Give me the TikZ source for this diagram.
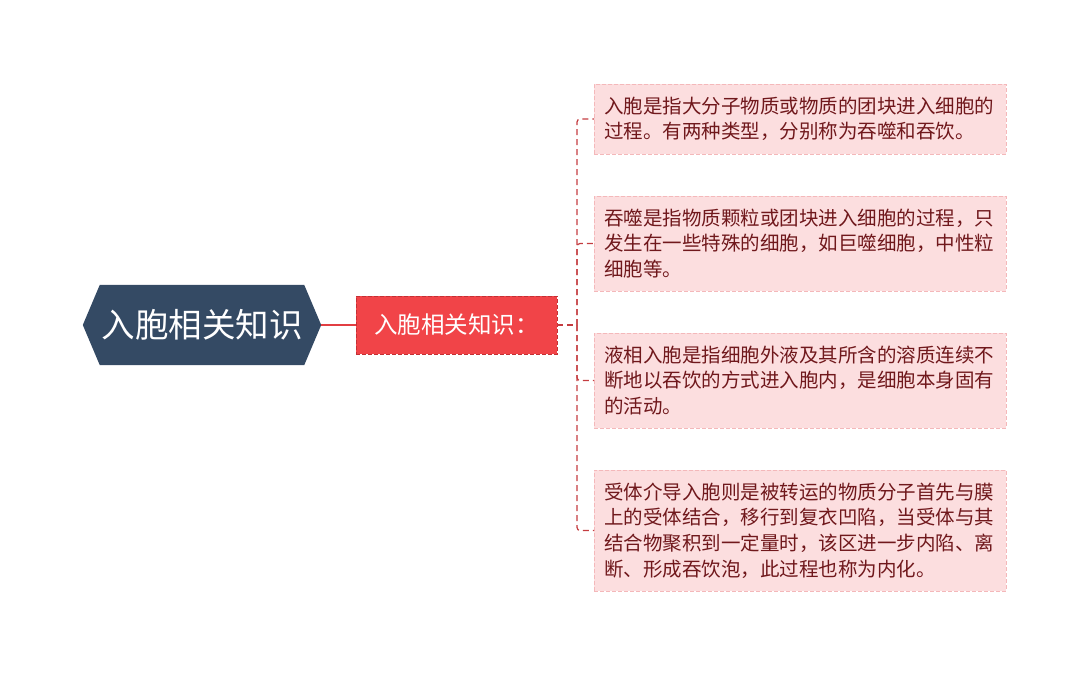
\documentclass[tikz,border=0pt]{standalone}
\usepackage{fontspec}
\setmainfont{Noto Sans CJK SC}
\definecolor{rootfill}{RGB}{52,74,100}
\definecolor{midfill}{RGB}{241,68,72}
\definecolor{midborder}{RGB}{196,48,52}
\definecolor{connred}{RGB}{226,62,66}
\definecolor{dashred}{RGB}{196,60,64}
\definecolor{leaffill}{RGB}{252,222,223}
\definecolor{leafborder}{RGB}{244,184,186}
\definecolor{leaftext}{RGB}{112,24,28}
\tikzset{
  rootbox/.style={minimum width=238pt, minimum height=80pt, inner sep=0pt, text=white,
    font=\fontsize{33.5}{38}\selectfont},
  midbox/.style={draw=midborder, dash pattern=on 4pt off 2pt, line width=0.9pt, fill=midfill,
    minimum width=201pt, minimum height=58pt, inner sep=0pt, text=white,
    font=\fontsize{23.5}{28}\selectfont},
  leafbox/.style={draw=leafborder, dash pattern=on 4pt off 2pt, line width=0.8pt, fill=leaffill,
    text=leaftext, text width=392pt, inner xsep=10pt, inner ysep=0pt, align=left, anchor=west,
    font=\fontsize{19.5}{25.6}\selectfont},
  solidconn/.style={draw=connred, line width=2pt},
  dashconn/.style={draw=dashred, line width=1.2pt, dash pattern=on 6pt off 4pt, rounded corners=3pt},
}
\begin{document}
\begin{tikzpicture}[x=1pt,y=-1pt]
\useasboundingbox (0,0) rectangle (1090,675);
\node[rootbox] (root) at (202,325) {};
\fill[rootfill] (root.west) -- ([xshift=17pt]root.north west) -- ([xshift=-17pt]root.north east)
  -- (root.east) -- ([xshift=-17pt]root.south east) -- ([xshift=17pt]root.south west) -- cycle;
\node[rootbox] at (root.center) {入胞相关知识};
\node[midbox] (mid) at (456.5,325) {入胞相关知识：};
\draw[solidconn] (root.east) -- (mid.west);
\node[leafbox, minimum height=70pt] (b1) at (594,119) {入胞是指大分子物质或物质的团块进入细胞的\\过程。有两种类型，分别称为吞噬和吞饮。};
\node[leafbox, minimum height=95pt] (b2) at (594,243.5) {吞噬是指物质颗粒或团块进入细胞的过程，只\\发生在一些特殊的细胞，如巨噬细胞，中性粒\\细胞等。};
\node[leafbox, minimum height=95pt] (b3) at (594,380.5) {液相入胞是指细胞外液及其所含的溶质连续不\\断地以吞饮的方式进入胞内，是细胞本身固有\\的活动。};
\node[leafbox, minimum height=121pt] (b4) at (594,530.5) {受体介导入胞则是被转运的物质分子首先与膜\\上的受体结合，移行到复衣凹陷，当受体与其\\结合物聚积到一定量时，该区进一步内陷、离\\断、形成吞饮泡，此过程也称为内化。};
\coordinate (bus) at (577,325);
\draw[dashconn] (mid.east) -- (bus);
\draw[dashconn] (bus) |- (b1.west);
\draw[dashconn] (bus) |- (b2.west);
\draw[dashconn] (bus) |- (b3.west);
\draw[dashconn] (bus) |- (b4.west);
\end{tikzpicture}
\end{document}
